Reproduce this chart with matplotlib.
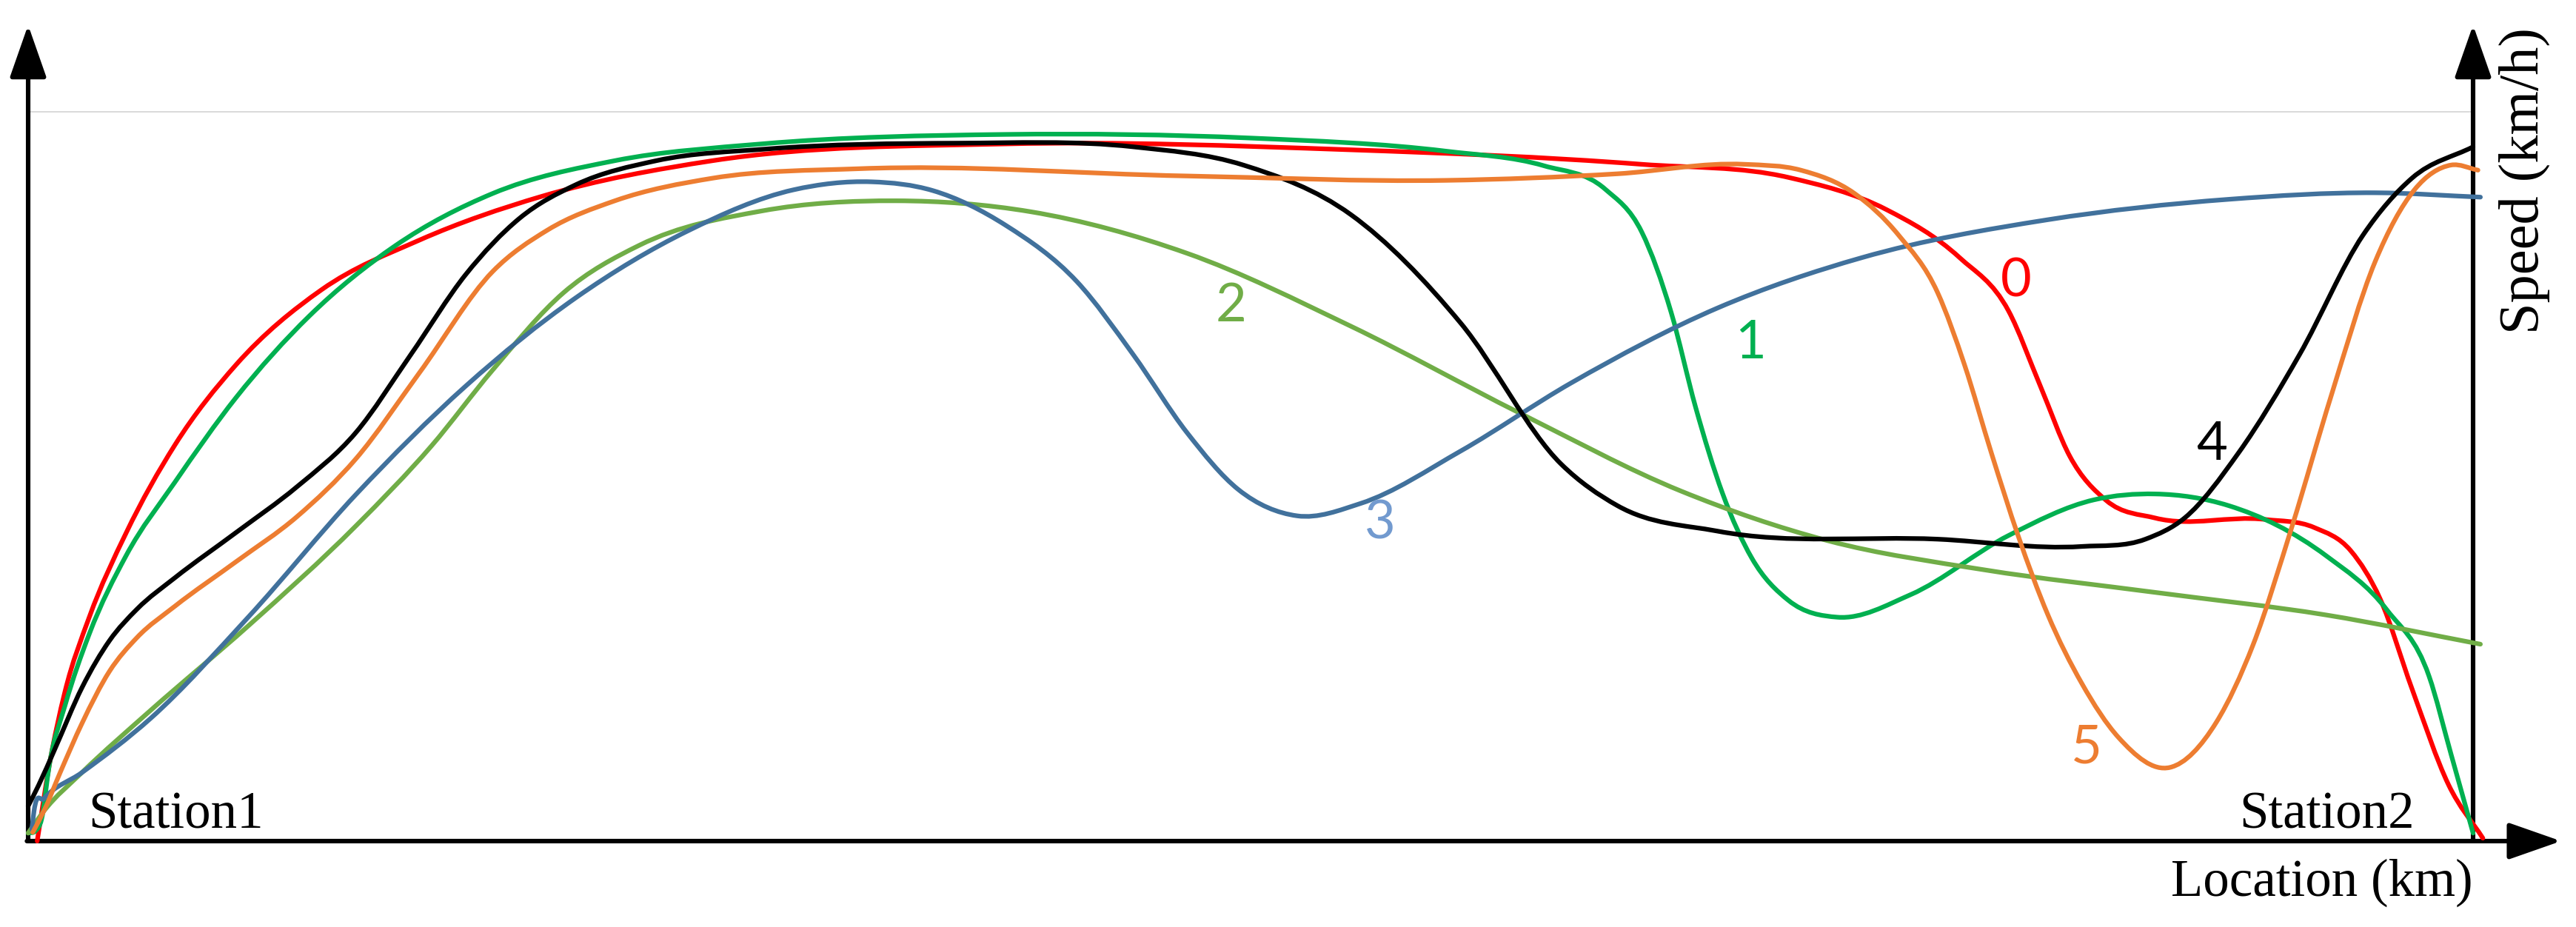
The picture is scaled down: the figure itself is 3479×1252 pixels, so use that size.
import matplotlib.pyplot as plt
from matplotlib.path import Path
from matplotlib.patches import PathPatch

# speed profiles between two stations, location in % of the run, speed in % of the top line
loc0 = [0.37, 0.87, 1.5, 2.5, 4.0, 6.0, 8.5, 12.0, 16.0, 21.0, 28.0, 40.0, 54.0, 66.0, 72.0,
        76.0, 79.0, 81.0, 82.3, 83.5, 85.0, 87.0, 91.5, 93.5, 95.0, 96.2, 97.5, 99.0, 100.4]
speed0 = [0.0, 10.5, 20.4, 30.7, 42.2, 54.3, 65.3, 75.6, 82.4, 88.4, 93.3, 95.6, 94.8, 92.8,
          91.0, 86.6, 80.0, 72.7, 62.4, 52.8, 46.7, 44.3, 44.1, 43.0, 39.8, 33.2, 20.9, 7.7, 0.4]

loc1 = [0.0, 0.3, 0.55, 0.87, 1.5, 2.5, 4.0, 6.0, 8.5, 11.5, 15.0, 19.0, 24.0, 30.0, 40.0,
        50.0, 58.0, 62.0, 64.5, 66.0, 67.2, 68.2, 69.3, 70.5, 72.0, 74.0, 77.0, 81.0, 84.5,
        87.0, 90.0, 94.0, 96.5, 98.2, 99.1, 100.0]
speed1 = [1.1, 1.4, 3.0, 10.5, 18.5, 28.4, 39.1, 49.2, 60.8, 72.0, 81.6, 88.8, 93.3, 95.6,
          96.9, 96.4, 94.6, 92.6, 89.4, 83.5, 72.5, 59.5, 47.7, 38.8, 33.0, 30.7, 33.8, 41.9,
          46.8, 47.6, 46.0, 39.1, 31.6, 22.6, 11.9, 1.1]

loc2 = [0.0, 0.64, 2.2, 5.0, 9.0, 13.4, 16.5, 19.0, 21.9, 25.0, 30.0, 35.5, 41.0, 47.4, 54.1,
        61.0, 67.6, 73.6, 80.0, 87.0, 94.0, 100.3]
speed2 = [1.1, 4.1, 9.4, 17.9, 29.5, 43.2, 54.2, 64.6, 75.2, 81.7, 86.4, 87.8, 86.3, 80.6, 70.6,
          58.7, 48.0, 41.2, 37.2, 34.1, 31.0, 27.0]

loc3 = [0.15, 0.24, 0.64, 2.2, 5.0, 9.0, 13.4, 17.9, 22.4, 27.0, 31.3, 34.5, 37.0, 40.0, 42.9,
        45.2, 47.4, 49.5, 51.9, 54.5, 58.6, 63.1, 69.1, 75.0, 82.6, 90.0, 96.0, 100.3]
speed3 = [1.6, 4.1, 5.8, 9.4, 16.8, 30.7, 47.5, 62.4, 74.5, 83.7, 89.3, 90.4, 89.2, 84.4, 76.7,
          66.7, 56.0, 48.2, 44.6, 46.3, 53.5, 62.8, 73.1, 80.0, 85.2, 88.0, 88.9, 88.3]

loc4 = [0.0, 0.42, 1.09, 2.21, 3.33, 4.45, 6.0, 8.5, 11.0, 13.4, 15.65, 17.9, 20.1, 22.4, 25.7,
        30.2, 38.0, 45.2, 49.7, 54.1, 58.6, 62.7, 65.0, 69.1, 78.1, 84.0, 86.6, 88.2, 90.4,
        92.9, 95.5, 97.5, 100.0]
speed4 = [4.8, 7.6, 12.6, 21.1, 27.5, 31.8, 36.1, 42.3, 48.6, 56.0, 66.7, 77.7, 85.4, 90.0,
          93.3, 94.9, 95.7, 95.2, 92.7, 85.9, 71.0, 51.7, 46.0, 42.5, 41.4, 40.4, 41.4, 44.3,
          53.2, 66.7, 83.1, 90.9, 95.2]

loc5 = [0.19, 0.64, 1.31, 2.21, 3.33, 4.45, 6.0, 8.5, 11.0, 13.4, 16.0, 19.0, 21.25, 24.0,
        28.0, 34.0, 47.4, 58.0, 65.0, 70.2, 72.5, 74.7, 76.5, 78.1, 79.2, 80.3, 81.4, 82.6,
        84.0, 85.5, 87.6, 89.5, 91.0, 92.6, 94.2, 96.0, 97.6, 99.1, 100.2]
speed5 = [1.2, 4.1, 9.4, 16.2, 23.3, 27.9, 32.2, 38.3, 44.5, 52.4, 64.2, 78.1, 83.8, 87.8,
          90.9, 92.2, 91.2, 90.6, 91.5, 92.8, 92.0, 88.8, 83.1, 75.2, 65.3, 53.2, 41.8, 31.1,
          21.6, 14.2, 10.1, 16.3, 26.9, 43.2, 61.1, 79.5, 89.3, 92.7, 92.0]

series = [(loc0, speed0, '#FF0000'), (loc1, speed1, '#00B050'), (loc2, speed2, '#70AD47'),
          (loc3, speed3, '#41719C'), (loc4, speed4, '#000000'), (loc5, speed5, '#ED7D31')]

# curve number labels: text, x, y, colour
curve_labels = [('0', 81.3, 76.8, '#FF0000'), ('1', 70.45, 68.3, '#00B050'),
                ('2', 49.2, 73.3, '#70AD47'), ('3', 55.3, 43.6, '#729ACF'),
                ('4', 89.3, 54.4, '#000000'), ('5', 84.2, 12.8, '#ED7D31')]


def smooth_path(x, y):
    # smooth line through the read points, tangents from neighbouring slopes
    n = len(x)
    m = []
    for i in range(n):
        if i == 0:
            m.append((y[1] - y[0]) / (x[1] - x[0]))
        elif i == n - 1:
            m.append((y[-1] - y[-2]) / (x[-1] - x[-2]))
        else:
            h0, h1 = x[i] - x[i - 1], x[i + 1] - x[i]
            d0, d1 = (y[i] - y[i - 1]) / h0, (y[i + 1] - y[i]) / h1
            m.append((d0 * h1 + d1 * h0) / (h0 + h1))
    verts = [(x[0], y[0])]
    codes = [Path.MOVETO]
    for i in range(n - 1):
        h = x[i + 1] - x[i]
        verts += [(x[i] + h / 3, y[i] + m[i] * h / 3),
                  (x[i + 1] - h / 3, y[i + 1] - m[i + 1] * h / 3),
                  (x[i + 1], y[i + 1])]
        codes += [Path.CURVE4] * 3
    return Path(verts, codes)


fig = plt.figure(figsize=(34.8, 12.52), dpi=100)
ax = fig.add_axes([0, 0, 1, 1])
ax.set_xlim(-1.151, 104.24)
ax.set_ylim(-11.78, 115.33)
ax.axis('off')

# light reference line at the top
ax.plot([0, 100], [100, 100], color='#D9D9D9', lw=1.4, zorder=1)

# axes with arrow heads
arrow = dict(arrowstyle='-|>,head_length=0.4,head_width=0.14', mutation_scale=110,
             lw=4.4, color='black', shrinkA=0, shrinkB=0)
ax.annotate('', xy=(0, 111.9), xytext=(0, 0), arrowprops=arrow)
ax.annotate('', xy=(100, 111.9), xytext=(100, 0), arrowprops=arrow)
ax.annotate('', xy=(103.6, 0), xytext=(-0.05, 0), arrowprops=arrow)

for x, y, c in series:
    ax.add_patch(PathPatch(smooth_path(x, y), facecolor='none', edgecolor=c, lw=4.5,
                           capstyle='round', joinstyle='round', zorder=3))

for t, x, y, c in curve_labels:
    ax.text(x, y, t, color=c, fontsize=52, family='Lato', ha='center', va='center')

serif = 'Liberation Serif'
ax.text(2.45, 1.8, 'Station1', fontsize=51, family=serif, ha='left', va='baseline')
ax.text(97.6, 1.8, 'Station2', fontsize=51, family=serif, ha='right', va='baseline')
ax.text(100.0, -7.5, 'Location (km)', fontsize=51, family=serif, ha='right', va='baseline')
ax.text(102.1, 90.6, 'Speed (km/h)', fontsize=55, family=serif, rotation=90,
        ha='center', va='center')

fig.savefig('out.png', dpi=100)
